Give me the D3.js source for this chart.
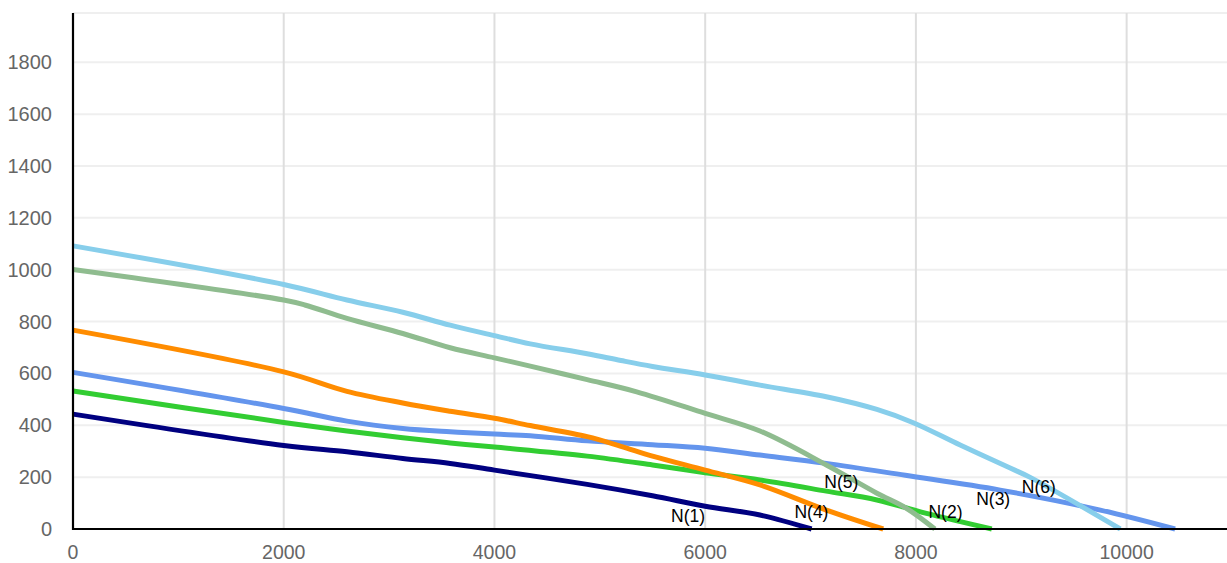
<!DOCTYPE html>
<html>
<head>
<meta charset="utf-8">
<script src="https://cdn.jsdelivr.net/npm/d3@7"></script>
<style>
  html, body { margin: 0; padding: 0; background: #fff; }
  svg { display: block; }
  text { font-family: "Liberation Sans", Arial, sans-serif; }
</style>
</head>
<body>
<svg id="chart" width="1227" height="563"></svg>
<script>
// ---- data ----
const seriesNames = ["N(1)", "N(2)", "N(3)", "N(4)", "N(5)", "N(6)"];
const seriesColors = ["#000080", "#32CD32", "#6495ED", "#FF8C00", "#8FBC8F", "#87CEEB"];

const n1 = [[0,443],[2000,322],[2600,298],[3130,272],[3580,253],[4000,227],[4880,172],[5500,128],[6000,88],[6520,54],[7010,0]];
const n2 = [[0,532],[2000,411],[2600,378],[3130,352],[3580,332],[4000,316],[4880,281],[5500,247],[6000,217],[6520,189],[7150,146],[7630,112],[8100,60],[8720,0]];
const n3 = [[0,604],[2000,465],[2600,416],[3130,388],[3580,375],[4000,366],[4340,360],[4880,340],[5500,325],[6000,311],[6520,285],[7150,253],[7900,207],[8800,150],[9750,73],[10460,0]];
const n4 = [[0,767],[2000,606],[2600,531],[3130,486],[3580,454],[4000,427],[4340,399],[4880,356],[5200,319],[5500,281],[6000,227],[6520,170],[7150,73],[7690,0]];
const n5 = [[0,1001],[2000,883],[2200,864],[2600,812],[3130,754],[3580,699],[4000,660],[4340,628],[4880,576],[5350,529],[6000,446],[6520,378],[7150,247],[7630,138],[7910,80],[8180,0]];
const n6 = [[0,1092],[2000,943],[2600,883],[3130,836],[3580,786],[4000,746],[4340,714],[4880,676],[5200,650],[5500,627],[6000,594],[6520,555],[7150,510],[7630,461],[7975,410],[8420,324],[8900,234],[9080,200],[9940,0]];
const seriesData = [n1, n2, n3, n4, n5, n6];

// label anchor points (data coords)
const labelPos = [[5676,28],[8119,43],[8572,93],[6847,41],[7131,158],[9005,138]];

const xTicks = [0, 2000, 4000, 6000, 8000, 10000];
const yTicks = [0, 200, 400, 600, 800, 1000, 1200, 1400, 1600, 1800];

// ---- layout ----
const svg = d3.select("#chart");
const plotLeft = 73, plotBottom = 529, plotTop = 13;
const W = 1227;
const x = d3.scaleLinear().domain([0, 11000]).range([plotLeft, plotLeft + 1159]);
const y = d3.scaleLinear().domain([0, 1990]).range([plotBottom, plotTop]);

// horizontal gridlines
svg.append("g").selectAll("line").data(yTicks.filter(d => d > 0).concat([y.domain()[1]]))
  .join("line")
  .attr("x1", plotLeft).attr("x2", W)
  .attr("y1", d => y(d)).attr("y2", d => y(d))
  .attr("stroke", "#efefef").attr("stroke-width", 2);

// vertical gridlines
svg.append("g").selectAll("line").data(xTicks.filter(d => d > 0))
  .join("line")
  .attr("x1", d => x(d)).attr("x2", d => x(d))
  .attr("y1", plotTop).attr("y2", plotBottom)
  .attr("stroke", "#dedede").attr("stroke-width", 2);

// y tick labels
svg.append("g").selectAll("text").data(yTicks)
  .join("text")
  .attr("x", plotLeft - 21)
  .attr("y", d => y(d))
  .attr("dy", "0.35em")
  .attr("text-anchor", "end")
  .attr("font-size", 20)
  .attr("fill", "#666")
  .text(d => d);

// x tick labels
svg.append("g").selectAll("text").data(xTicks)
  .join("text")
  .attr("x", d => x(d))
  .attr("y", 559)
  .attr("text-anchor", "middle")
  .attr("font-size", 19.5)
  .attr("fill", "#666")
  .text(d => d);

// lines
const line = d3.line().x(d => x(d[0])).y(d => y(d[1])).curve(d3.curveCatmullRom.alpha(0.5));
svg.append("g").selectAll("path").data(seriesData)
  .join("path")
  .attr("d", d => line(d))
  .attr("fill", "none")
  .attr("stroke", (d, i) => seriesColors[i])
  .attr("stroke-width", 5)
  .attr("stroke-linejoin", "round");

// axes lines
svg.append("line").attr("x1", plotLeft).attr("x2", plotLeft).attr("y1", plotTop).attr("y2", plotBottom + 1)
  .attr("stroke", "#000").attr("stroke-width", 2.2);
svg.append("line").attr("x1", plotLeft - 1).attr("x2", W).attr("y1", plotBottom).attr("y2", plotBottom)
  .attr("stroke", "#000").attr("stroke-width", 2.2);

// series labels
svg.append("g").selectAll("text").data(seriesNames)
  .join("text")
  .attr("x", (d, i) => x(labelPos[i][0]))
  .attr("y", (d, i) => y(labelPos[i][1]))
  .attr("font-size", 17.5)
  .attr("fill", "#000")
  .text(d => d);
</script>
</body>
</html>
